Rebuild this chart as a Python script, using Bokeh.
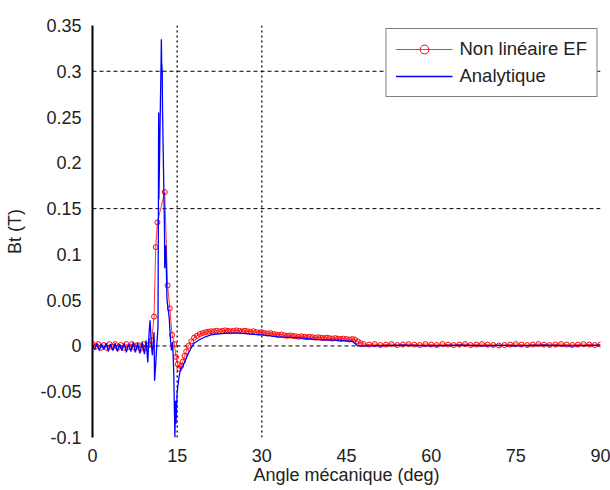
from bokeh.plotting import figure
from bokeh.models import Span, Legend, LegendItem, FixedTicker, CustomJSTickFormatter
from bokeh.embed import file_html
from bokeh.resources import INLINE

# ---------------- data ----------------
x_ticks = [0, 15, 30, 45, 60, 75, 90]
y_ticks = [-0.1, -0.05, 0, 0.05, 0.1, 0.15, 0.2, 0.25, 0.3, 0.35]
ref_y = [0.3, 0.15, 0.0]      # dashed reference lines
ref_x = [15, 30]              # dotted reference lines

# "Non linéaire EF" (red, circles)
red_x = [
    0, 0.5, 1, 1.5, 2, 2.5, 3, 3.5, 4, 4.5,
    5, 5.5, 6, 6.5, 7, 7.5, 8, 8.5, 9, 9.5,
    10,
    10.5, 10.9, 11.2, 11.5, 12.8, 13.3, 13.7, 14.1, 14.5, 14.8,
    15.1, 15.4, 15.7, 16.0, 16.3, 16.6, 17.0, 17.5, 18.0, 18.5,
    19.0, 19.5, 20.0,
    20.5, 21, 21.5, 22, 22.5, 23, 23.5, 24, 24.5, 25,
    25.5, 26, 26.5, 27, 27.5, 28, 28.5, 29, 29.5, 30,
    30.5, 31, 31.5, 32, 32.5, 33, 33.5, 34, 34.5, 35,
    35.5, 36, 36.5, 37, 37.5, 38, 38.5, 39, 39.5, 40,
    40.5, 41, 41.5, 42, 42.5, 43, 43.5, 44, 44.5, 45,
    45.5, 46, 46.5, 47, 47.5,
    48, 49, 50, 51, 52, 53, 54, 55, 56, 57,
    58, 59, 60, 61, 62, 63, 64, 65, 66, 67,
    68, 69, 70, 71, 72, 73, 74, 75, 76, 77,
    78, 79, 80, 81, 82, 83, 84, 85, 86, 87,
    88, 89, 90,
]
red_y = [
    0.002, -0.001, 0.002, -0.002, 0.001, -0.002, 0.002, -0.001, 0.002, -0.002,
    0.001, -0.002, 0.002, -0.001, 0.002, -0.002, 0.001, -0.003, 0.002, -0.002,
    0.001,
    0.006, 0.032, 0.108, 0.135, 0.168, 0.066, 0.041, 0.012, 0.002, -0.012,
    -0.020, -0.025, -0.022, -0.017, -0.011, -0.006, 0.000, 0.005, 0.009, 0.011,
    0.013, 0.014, 0.015,
    0.0155, 0.016, 0.016, 0.0165, 0.016, 0.0165, 0.017, 0.0165, 0.016, 0.0165,
    0.017, 0.0165, 0.016, 0.0165, 0.016, 0.0155, 0.016, 0.015, 0.0145, 0.015,
    0.014, 0.0135, 0.014, 0.013, 0.0125, 0.012, 0.0125, 0.0115, 0.011, 0.0115,
    0.011, 0.0105, 0.010, 0.0105, 0.010, 0.0095, 0.010, 0.0095, 0.009, 0.0095,
    0.009, 0.0085, 0.009, 0.0085, 0.008, 0.0085, 0.008, 0.0075, 0.008, 0.0075,
    0.007, 0.0075, 0.007, 0.005, 0.003,
    0.002, 0.0015, 0.002, 0.001, 0.0015, 0.002, 0.001, 0.0015, 0.002, 0.0015,
    0.001, 0.002, 0.0015, 0.001, 0.002, 0.0015, 0.001, 0.0015, 0.002, 0.001,
    0.0015, 0.002, 0.0015, 0.001, 0.0005, 0.001, 0.0015, 0.002, 0.0015, 0.001,
    0.0015, 0.002, 0.0015, 0.001, 0.0015, 0.002, 0.0015, 0.001, 0.0015, 0.002,
    0.0015, 0.001, 0.0015,
]

# "Analytique" (blue line)
blue_x = [
    0.0, 0.4, 0.8, 1.2, 1.6, 2.0, 2.4, 2.8, 3.2, 3.6,
    4.0, 4.4, 4.8, 5.2, 5.6, 6.0, 6.4, 6.8, 7.2, 7.6,
    8.0, 8.4, 8.8, 9.2, 9.5, 9.8, 10.0, 10.2, 10.4, 10.6,
    10.9, 11.0, 11.2, 11.4, 11.6, 11.68, 11.72, 11.76, 12.15, 12.2,
    12.25, 12.35, 12.4, 12.75, 12.8, 13.0, 13.2, 13.4, 13.6, 13.8,
    14.0, 14.2, 14.4, 14.6, 14.7, 14.8, 15.0, 15.3, 15.6, 16.0,
    16.5, 17.0, 17.5, 18.0, 19.0, 20.0, 21.0, 22.0, 24.0, 26.0,
    28.0, 30.0, 33.0, 36.0, 40.0, 44.0, 46.0, 47.0, 50.0, 55.0,
    60.0, 65.0, 70.0, 72.0, 75.0, 80.0, 85.0, 90.0,
]
blue_y = [
    0.001, -0.004, 0.003, -0.005, 0.002, -0.004, 0.003, -0.006, 0.002, -0.005,
    0.003, -0.006, 0.002, -0.005, 0.003, -0.007, 0.002, -0.006, 0.004, -0.007,
    0.003, -0.008, 0.004, -0.009, 0.006, -0.018, 0.012, 0.028, 0.004, -0.010,
    0.015, -0.038, -0.020, 0.002, 0.020, 0.150, 0.255, 0.160, 0.310, 0.335,
    0.310, 0.300, 0.260, 0.130, 0.085, 0.110, 0.050, 0.040, 0.030, 0.008,
    -0.005, 0.004, -0.030, -0.100, -0.060, -0.085, -0.050, -0.035, -0.025, -0.022,
    -0.015, -0.008, -0.002, 0.003, 0.007, 0.010, 0.012, 0.013, 0.014, 0.014,
    0.013, 0.012, 0.010, 0.009, 0.007, 0.006, 0.005, 0.000, 0.000, 0.001,
    0.000, 0.001, 0.000, 0.001, 0.000, 0.001, 0.000, 0.001,
]

FONT = "Liberation Sans"

p = figure(
    width=610, height=490,
    x_range=(0, 90), y_range=(-0.1, 0.35),
    output_backend="svg", toolbar_location=None,
    min_border_left=92, min_border_right=10,
    min_border_top=25, min_border_bottom=53,
)
p.background_fill_color = "white"
p.border_fill_color = "white"
p.outline_line_color = None
p.grid.visible = False

# reference lines
for yv in ref_y:
    p.add_layout(Span(location=yv, dimension="width", line_color="black",
                      line_width=1, line_dash="4 3", level="underlay"))
for xv in ref_x:
    p.add_layout(Span(location=xv, dimension="height", line_color="black",
                      line_width=1.3, line_dash="2 3", level="underlay"))

r_red_line = p.line(red_x, red_y, line_color="red", line_width=0.8)
r_red_pts = p.scatter(red_x, red_y, marker="circle", size=5,
                      line_color="red", fill_color=None, line_width=1)
r_blue = p.line(blue_x, blue_y, line_color="blue", line_width=1.3)

# axes
p.xaxis.ticker = FixedTicker(ticks=x_ticks)
p.yaxis.ticker = FixedTicker(ticks=y_ticks)
p.yaxis.formatter = CustomJSTickFormatter(code="return Number(tick.toFixed(2)).toString();")
p.xaxis.axis_line_color = None
p.yaxis.axis_line_color = "black"
p.yaxis.axis_line_width = 2
for ax in (p.xaxis, p.yaxis):
    ax.major_tick_line_color = None
    ax.minor_tick_line_color = None
    ax.major_label_text_font = FONT
    ax.major_label_text_font_size = "18px"
    ax.major_label_text_color = "#222222"
    ax.axis_label_text_font = FONT
    ax.axis_label_text_font_size = "18px"
    ax.axis_label_text_font_style = "normal"
    ax.axis_label_text_color = "#222222"
p.xaxis.major_label_standoff = 5
p.yaxis.major_label_standoff = 5
p.xaxis.axis_label = "Angle mécanique (deg)"
p.yaxis.axis_label = "Bt (T)"
p.xaxis.axis_label_standoff = 0
p.yaxis.axis_label_standoff = 12

legend = Legend(
    items=[
        LegendItem(label="Non linéaire EF", renderers=[r_red_line, r_red_pts]),
        LegendItem(label="Analytique", renderers=[r_blue]),
    ],
    location="top_right",
    margin=3, padding=9, spacing=5,
    glyph_width=57, glyph_height=22, label_height=22, label_standoff=7,
    label_text_font=FONT, label_text_font_size="18.5px", label_text_color="#222222",
    border_line_color="black", border_line_width=1.5,
    background_fill_color="white", background_fill_alpha=1.0,
)
p.add_layout(legend)

open("out.html", "w").write(file_html(p, INLINE))
